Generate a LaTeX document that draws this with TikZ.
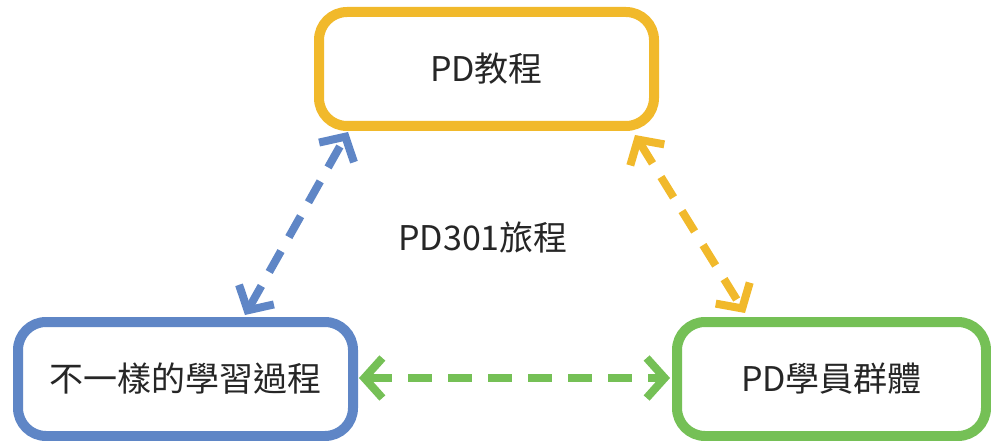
\documentclass[tikz,border=0pt]{standalone}
\usepackage{fontspec}
\setmainfont{Noto Sans CJK TC}
\usetikzlibrary{arrows.meta,calc}
\definecolor{boxblue}{RGB}{95,134,198}
\definecolor{boxgold}{RGB}{241,185,43}
\definecolor{boxgreen}{RGB}{117,192,86}
\definecolor{labelgray}{RGB}{38,38,38}
\tikzset{
  topic/.style={draw, line width=10pt, rounded corners=28pt, fill=white,
    minimum height=114pt, inner sep=0pt, text=labelgray,
    font=\fontsize{34pt}{40pt}\selectfont},
  link/.style={line width=8pt, dash pattern=on 24pt off 16pt,
    {Straight Barb[length=18pt,width=40pt]}-{Straight Barb[length=18pt,width=40pt]}},
}
\begin{document}
\begin{tikzpicture}[x=1pt,y=-1pt]
  \useasboundingbox (0,0) rectangle (991,441);

  % the three topic boxes
  \node[topic, draw=boxgold, minimum width=335pt] (course) at (486.5,69) {PD教程};
  \node[topic, draw=boxblue, minimum width=335pt] (process) at (185.5,379) {不一樣的學習過程};
  \node[topic, draw=boxgreen, minimum width=309pt] (group) at (831.5,379) {PD學員群體};

  % centre caption
  \node[text=labelgray, font=\fontsize{34pt}{40pt}\selectfont] (trip) at (483,238) {PD301旅程};

  % arrow end points on the box borders
  \coordinate (b1) at ($(process.north west)+(232,-2)$);
  \coordinate (b2) at ($(course.south west)+(34,1)$);
  \coordinate (y1) at ($(course.south east)+(-24,4)$);
  \coordinate (y2) at ($(group.north west)+(73,-4)$);
  \coordinate (g1) at ($(process.east)+(1,-1)$);
  \coordinate (g2) at ($(group.west)+(-2,-1)$);

  % two-way dashed connectors
  \draw[link, boxblue] (b1) -- (b2);
  \draw[link, boxgold] (y1) -- (y2);
  \draw[link, boxgreen] (g1) -- (g2);
\end{tikzpicture}
\end{document}
